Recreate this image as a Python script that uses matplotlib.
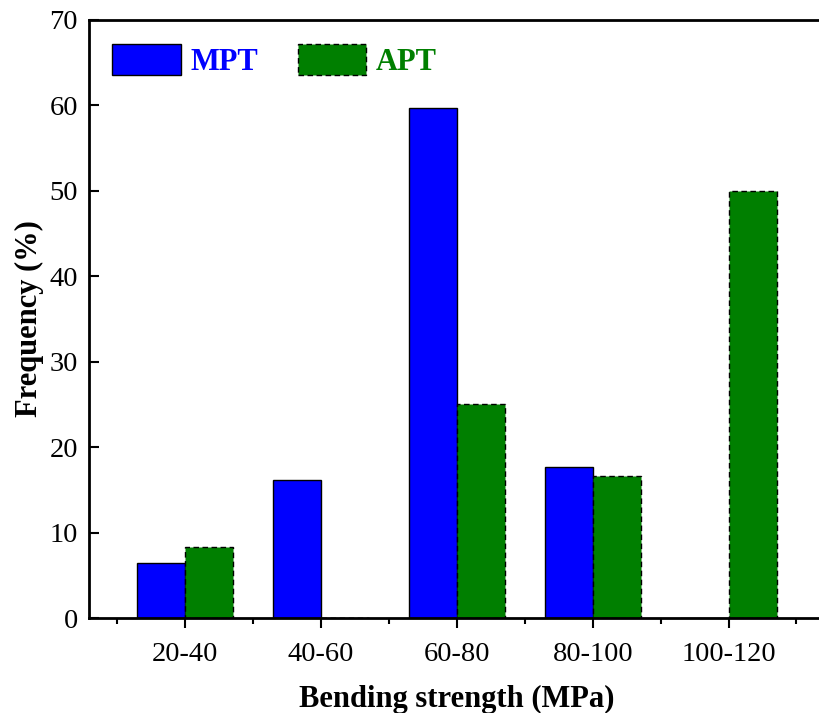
import matplotlib.pyplot as plt
import numpy as np
from matplotlib.ticker import MultipleLocator, FixedLocator

plt.rcParams['font.family'] = ['Liberation Serif', 'DejaVu Serif']

categories = ['20-40', '40-60', '60-80', '80-100', '100-120']
mpt = [6.45, 16.1, 59.7, 17.7, 0]
apt = [8.33, 0, 25.0, 16.67, 50.0]

x = np.arange(len(categories))
w = 0.355

fig = plt.figure(figsize=(8.19, 7.13), dpi=100)
ax = fig.add_axes([0.1087, 0.1332, 0.897, 0.8388])

ax.bar(x - w / 2, mpt, w, color='#0000ff', edgecolor='black', linewidth=1.0, label='MPT')
ax.bar(x + w / 2, apt, w, color='#007f00', edgecolor='black', linewidth=1.0,
       linestyle=(0, (4, 2.5)), label='APT')

ax.set_xlim(-0.708, 4.7)
ax.set_ylim(0, 70)
ax.set_xticks(x)
ax.set_xticklabels(categories)
ax.xaxis.set_minor_locator(FixedLocator(list(np.arange(-0.5, 5.0, 1.0))))
ax.yaxis.set_major_locator(MultipleLocator(10))

# x ticks point out, y ticks point in
ax.tick_params(axis='x', which='major', direction='out', length=7, width=1.5, labelsize=20.5, pad=10)
ax.tick_params(axis='x', which='minor', direction='out', length=4, width=1.5)
ax.tick_params(axis='y', which='major', direction='in', length=7, width=1.5, labelsize=20.5, pad=8)
ax.tick_params(axis='y', which='minor', left=False)

for s in ['left', 'bottom', 'top']:
    ax.spines[s].set_linewidth(2)
ax.spines['right'].set_visible(False)

ax.set_xlabel('Bending strength (MPa)', fontsize=22, fontweight='bold', labelpad=13)
ax.set_ylabel('Frequency (%)', fontsize=22, fontweight='bold', labelpad=4)

leg = ax.legend(loc='upper left', ncol=2, frameon=False,
                prop={'weight': 'bold', 'size': 22},
                handlelength=2.25, handleheight=1.2, columnspacing=1.3,
                handletextpad=0.3, bbox_to_anchor=(-0.006, 1.006))
for txt, c in zip(leg.get_texts(), ['#0000ff', '#007f00']):
    txt.set_color(c)

fig.savefig('out.png', dpi=100)
